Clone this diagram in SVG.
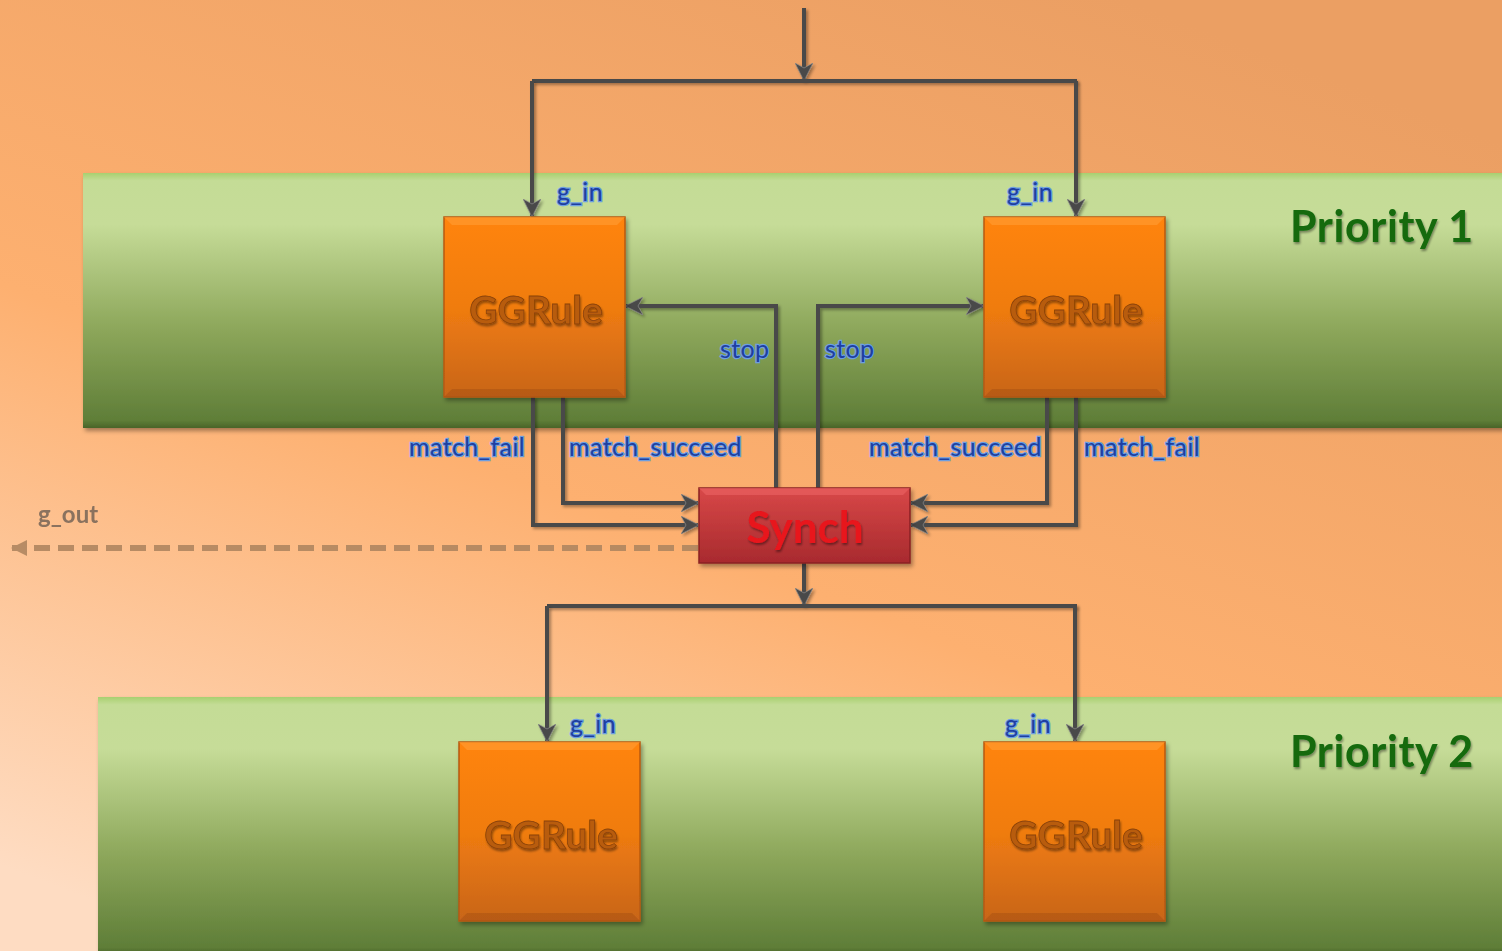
<svg xmlns="http://www.w3.org/2000/svg" width="1502" height="951" viewBox="0 0 1502 951">
<defs>
<linearGradient id="bg" x1="0.75" y1="0" x2="0.15" y2="1">
<stop offset="0" stop-color="#eb9f63"/>
<stop offset="0.55" stop-color="#fdb070"/>
<stop offset="1" stop-color="#fedcc2"/>
</linearGradient>
<linearGradient id="band" x1="0" y1="0" x2="0" y2="1">
<stop offset="0" stop-color="#a8d070"/>
<stop offset="0.03" stop-color="#c4dc96"/>
<stop offset="0.2" stop-color="#c6dc98"/>
<stop offset="0.6" stop-color="#8ea85c"/>
<stop offset="0.97" stop-color="#5f7e38"/>
<stop offset="1" stop-color="#4a6428"/>
</linearGradient>
<linearGradient id="org" x1="0" y1="0" x2="0" y2="1">
<stop offset="0" stop-color="#ff8408"/>
<stop offset="0.5" stop-color="#f07c10"/>
<stop offset="1" stop-color="#c8651a"/>
</linearGradient>
<linearGradient id="red" x1="0" y1="0" x2="0" y2="1">
<stop offset="0" stop-color="#d84848"/>
<stop offset="1" stop-color="#a82a2e"/>
</linearGradient>
<filter id="sh" x="-10%" y="-10%" width="130%" height="130%">
<feDropShadow dx="2" dy="3" stdDeviation="2" flood-color="#000" flood-opacity="0.35"/>
</filter>
<filter id="lsh" filterUnits="userSpaceOnUse" x="0" y="0" width="1502" height="951">
<feDropShadow dx="2" dy="2" stdDeviation="1.5" flood-color="#000" flood-opacity="0.35"/>
</filter>
<filter id="tsh" x="-10%" y="-20%" width="130%" height="150%">
<feDropShadow dx="1" dy="2" stdDeviation="1.2" flood-color="#000" flood-opacity="0.4"/>
</filter>
<marker id="ah" viewBox="0 0 18 18" refX="17" refY="9" markerWidth="18" markerHeight="18" markerUnits="userSpaceOnUse" orient="auto">
<path d="M0,0 L18,9 L0,18 L5,9 Z" fill="#4a4a4a" stroke="#8a8a8a" stroke-width="0.7"/>
</marker>
<marker id="ahd" viewBox="0 0 16 16" refX="15" refY="8" markerWidth="16" markerHeight="16" markerUnits="userSpaceOnUse" orient="auto">
<path d="M0,0 L16,8 L0,16 Z" fill="#b08660"/>
</marker>
</defs>
<style>
.band{fill:url(#band);filter:url(#sh)}
.box{fill:url(#org);stroke:#b85a10;stroke-width:1.5;filter:url(#sh)}
.bevT{fill:#ff9a30;opacity:0.7}
.bevB{fill:#a85010;opacity:0.5}
.gg{font-family:Lato,"Open Sans",sans-serif;font-weight:bold;font-size:39px;fill:#b85c0c;stroke:#8a4208;stroke-width:0.8;text-anchor:middle;filter:url(#tsh)}
.syn{font-family:Lato,"Open Sans",sans-serif;font-weight:bold;font-size:44px;fill:#e8141c;text-anchor:middle;filter:url(#tsh)}
.pri{font-family:Lato,"Open Sans",sans-serif;font-weight:bold;font-size:43px;letter-spacing:0.6px;fill:#136b0e;filter:url(#tsh)}
.lbl{font-family:Lato,"Open Sans",sans-serif;font-size:25px;letter-spacing:0.4px;fill:#1e3fa0;stroke:#6c9ee0;stroke-width:2.4;paint-order:stroke}
.gout{font-family:Lato,"Open Sans",sans-serif;font-weight:bold;font-size:24px;fill:#7e6a5a;opacity:0.9}
.c{fill:none;stroke:#4a4a4a;stroke-width:4;filter:url(#lsh)}
.ca{fill:none;stroke:#4a4a4a;stroke-width:4;marker-end:url(#ah);filter:url(#lsh)}
</style>
<rect width="1502" height="951" fill="url(#bg)"/>
<g id="band1"><rect class="band" x="83" y="173" width="1425" height="255"/><text class="pri" x="1290" y="242">Priority 1</text></g>
<g id="band2"><rect class="band" x="98" y="697" width="1410" height="258"/><text class="pri" x="1290" y="767">Priority 2</text></g>
<g id="connectors">
<path class="ca" d="M804,8 V80"/>
<path class="c" d="M532,81 H1077"/>
<path class="ca" d="M532,81 V216"/>
<path class="ca" d="M1076,81 V216"/>
<path class="ca" d="M776,488 V306 H626"/>
<path class="ca" d="M818,488 V306 H983"/>
<path class="ca" d="M533,397 V525 H698"/>
<path class="ca" d="M563,397 V503 H698"/>
<path class="ca" d="M1047,397 V503 H911"/>
<path class="ca" d="M1076,397 V525 H911"/>
<path class="ca" d="M804,563 V605"/>
<path class="c" d="M547,606 H1077"/>
<path class="ca" d="M547,606 V741"/>
<path class="ca" d="M1075,606 V741"/>
<path d="M698,548 H12" fill="none" stroke="#b08660" stroke-width="6" stroke-dasharray="16,8" marker-end="url(#ahd)" opacity="0.9"/>
</g>
<g id="labels">
<text class="lbl" x="557" y="201">g_in</text>
<text class="lbl" x="1007" y="201">g_in</text>
<text class="lbl" x="570" y="733">g_in</text>
<text class="lbl" x="1005" y="733">g_in</text>
<text class="lbl" x="720" y="358">stop</text>
<text class="lbl" x="825" y="358">stop</text>
<text class="lbl" x="409" y="456">match_fail</text>
<text class="lbl" x="569" y="456">match_succeed</text>
<text class="lbl" x="869" y="456">match_succeed</text>
<text class="lbl" x="1084" y="456">match_fail</text>
<text class="gout" x="38" y="523">g_out</text>
</g>
<g id="rule1"><rect class="box" x="444" y="217" width="181" height="180"/><path class="bevT" d="M444,217 H625 L617,225 H452 Z"/><path class="bevB" d="M444,397 H625 L617,389 H452 Z"/><text class="gg" x="536" y="324">GGRule</text></g>
<g id="rule2"><rect class="box" x="984" y="217" width="181" height="180"/><path class="bevT" d="M984,217 H1165 L1157,225 H992 Z"/><path class="bevB" d="M984,397 H1165 L1157,389 H992 Z"/><text class="gg" x="1076" y="324">GGRule</text></g>
<g id="rule3"><rect class="box" x="459" y="742" width="181" height="179"/><path class="bevT" d="M459,742 H640 L632,750 H467 Z"/><path class="bevB" d="M459,921 H640 L632,913 H467 Z"/><text class="gg" x="551" y="849">GGRule</text></g>
<g id="rule4"><rect class="box" x="984" y="742" width="181" height="179"/><path class="bevT" d="M984,742 H1165 L1157,750 H992 Z"/><path class="bevB" d="M984,921 H1165 L1157,913 H992 Z"/><text class="gg" x="1076" y="849">GGRule</text></g>
<g id="synch"><rect x="699" y="488" width="211" height="75" fill="url(#red)" stroke="#8a2024" stroke-width="1.5" filter="url(#sh)"/><path d="M699,488 H910 L903,495 H706 Z" fill="#e86060" opacity="0.7"/><text class="syn" x="805" y="543">Synch</text></g>
</svg>
